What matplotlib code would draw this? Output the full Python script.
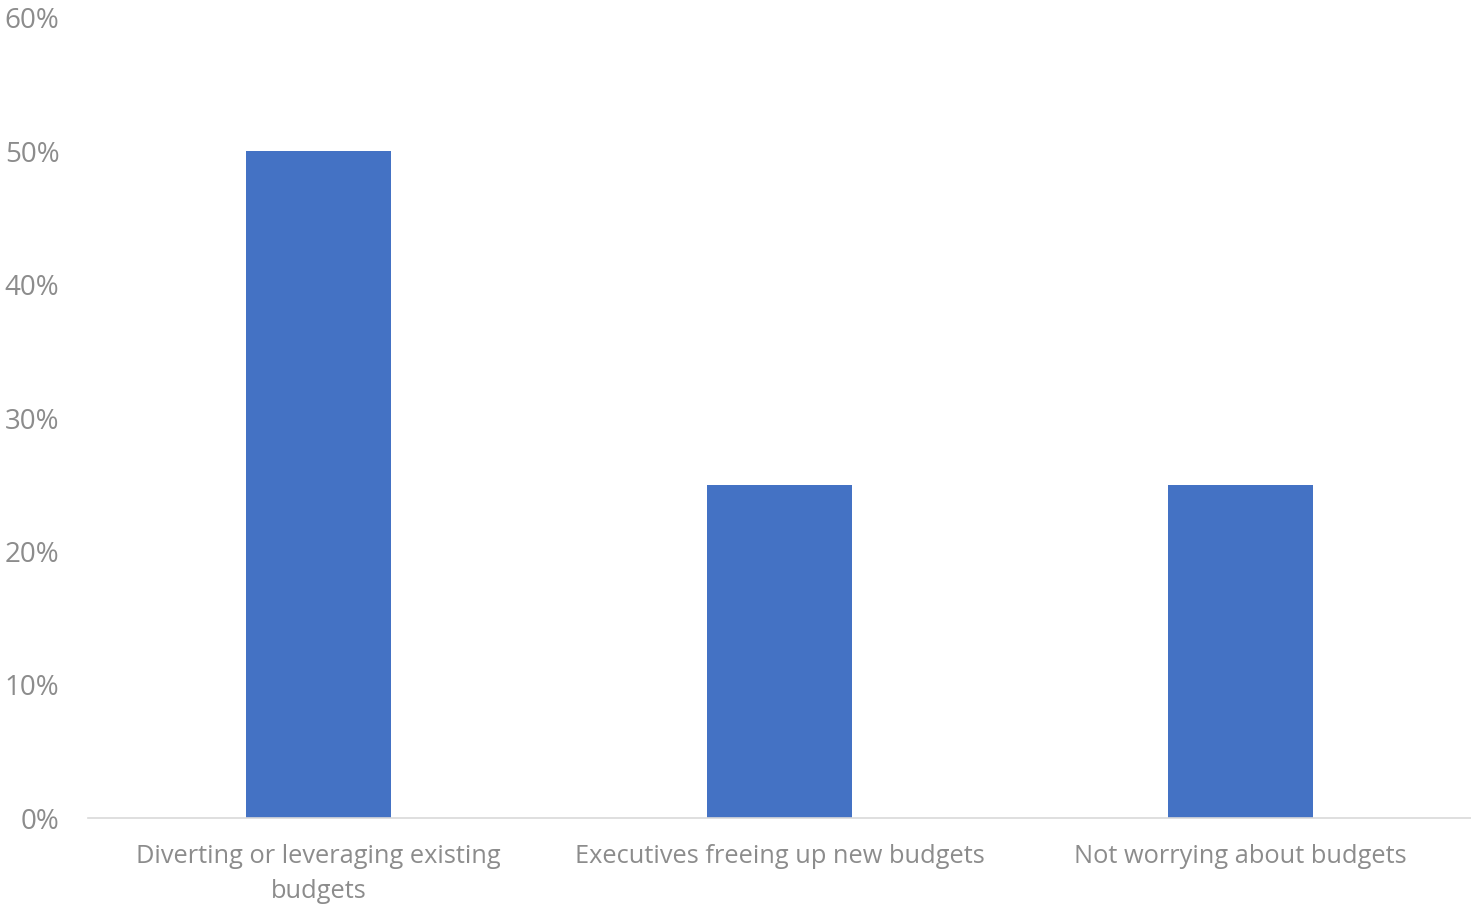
import matplotlib.pyplot as plt
from matplotlib.ticker import PercentFormatter

categories = ["Diverting or leveraging existing\nbudgets",
              "Executives freeing up new budgets",
              "Not worrying about budgets"]
shares = [50, 25, 25]
yticks = [0, 10, 20, 30, 40, 50, 60]

plt.rcParams['font.family'] = ['Open Sans', 'DejaVu Sans']

fig = plt.figure(figsize=(14.71, 9.09), dpi=100)
ax = fig.add_axes([0.0598, 0.1001, 0.9402, 0.8801])

x = range(len(categories))
ax.bar(x, shares, width=0.314, color='#4472C4')

ax.set_xlim(-0.5, len(categories) - 0.5)
ax.set_ylim(0, 60)
ax.set_yticks(yticks)
ax.yaxis.set_major_formatter(PercentFormatter(decimals=0))
ax.set_xticks(list(x))
ax.set_xticklabels(categories, linespacing=1.5)

for side in ['top', 'right', 'left']:
    ax.spines[side].set_visible(False)
ax.spines['bottom'].set_color('#d9d9d9')
ax.spines['bottom'].set_linewidth(1.2)

ax.tick_params(axis='x', length=0, labelsize=18.3, colors='#8c8c8c', pad=19)
ax.tick_params(axis='y', length=0, labelsize=20, colors='#8c8c8c', pad=20.5)

fig.savefig('out.png', dpi=100)
